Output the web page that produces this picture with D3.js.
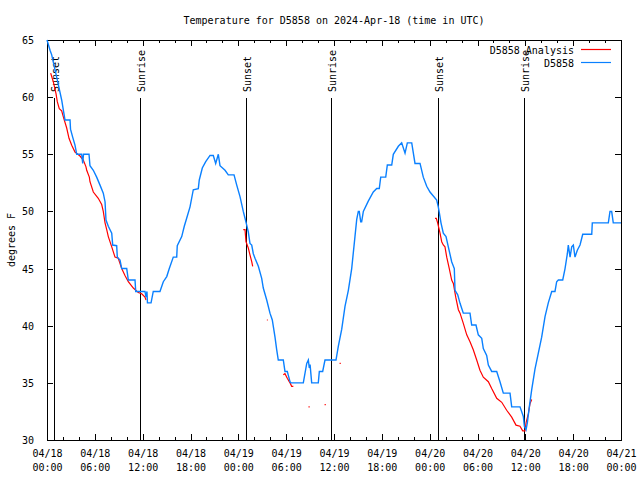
<!DOCTYPE html>
<html>
<head>
<meta charset="utf-8">
<script src="https://cdn.jsdelivr.net/npm/d3@7"></script>
<style>
  html, body { margin: 0; padding: 0; background: #fff; }
  svg { display: block; }
  text { font-family: "DejaVu Sans Mono", "Liberation Mono", monospace; font-size: 10px; fill: #000; }
</style>
</head>
<body>
<svg id="chart" width="640" height="480"></svg>
<script>
// ---------------- DATA ----------------
const titleText = "Temperature for D5858 on 2024-Apr-18 (time in UTC)";
const yLabelText = "degrees F";

// x tick labels (hours since 2024-04-18 00:00 UTC)
const xTickHours = [0, 6, 12, 18, 24, 30, 36, 42, 48, 54, 60, 66, 72];
const xTickDates = ["04/18", "04/18", "04/18", "04/18", "04/19", "04/19", "04/19", "04/19", "04/20", "04/20", "04/20", "04/20", "04/21"];
const xTickTimes = ["00:00", "06:00", "12:00", "18:00", "00:00", "06:00", "12:00", "18:00", "00:00", "06:00", "12:00", "18:00", "00:00"];
const yTicks = [30, 35, 40, 45, 50, 55, 60, 65];

// sunrise / sunset events
const eventHours = [0.92, 11.70, 25.00, 35.66, 49.08, 59.79];
const eventLabels = ["Sunset", "Sunrise", "Sunset", "Sunrise", "Sunset", "Sunrise"];

// D5858 observations
const obsHours = [0.00, 0.38, 0.59, 1.00, 1.42, 1.84, 2.04, 2.26, 2.89, 2.95, 3.22, 3.51, 3.73, 4.35, 4.48, 4.58, 5.27, 5.39, 5.81, 6.23,
  6.65, 7.06, 7.28, 7.40, 7.69, 8.12, 8.24, 8.74, 8.82, 9.16, 9.37, 10.00, 10.20, 11.04, 11.13, 12.29, 12.42, 12.54, 12.60, 13.05,
  13.33, 14.17, 14.59, 15.02, 15.34, 15.84, 16.27, 16.34, 16.90, 17.22, 17.52, 17.94, 18.35, 18.98, 19.10, 19.48, 19.91, 20.45, 20.86, 21.16,
  21.49, 21.70, 22.33, 22.74, 23.46, 23.80, 24.21, 24.62, 24.84, 25.05, 25.25, 25.46, 25.68, 25.88, 26.09, 26.51, 26.93, 27.13, 27.56, 27.97,
  28.26, 28.60, 28.81, 29.01, 29.64, 29.85, 30.14, 30.48, 30.60, 32.15, 32.58, 32.78, 32.90, 33.00, 33.20, 34.03, 34.16, 34.58, 34.87, 36.25,
  36.54, 36.97, 37.38, 37.80, 38.22, 38.63, 38.85, 39.05, 39.17, 39.35, 39.47, 39.68, 40.30, 40.93, 41.36, 41.68, 41.86, 42.49, 42.69, 43.24,
  43.44, 44.07, 44.49, 44.91, 45.20, 45.75, 46.16, 46.79, 47.20, 47.63, 48.04, 48.88, 49.08, 49.21, 49.42, 49.71, 50.05, 50.34, 50.76, 51.09,
  51.18, 51.52, 51.81, 52.22, 53.06, 53.27, 53.81, 54.10, 54.53, 54.73, 55.15, 55.36, 55.78, 56.41, 56.82, 57.24, 58.08, 58.29, 59.33, 59.75,
  59.88, 60.09, 60.25, 60.50, 60.80, 61.21, 61.63, 62.05, 62.47, 62.88, 63.31, 63.72, 63.93, 64.14, 64.69, 64.98, 65.27, 65.39, 65.61, 65.82,
  66.02, 66.23, 66.52, 66.86, 67.20, 68.33, 68.40, 70.41, 70.62, 70.83, 71.03, 72.00];
const obsTemps = [65.0, 64.1, 63.7, 62.4, 61.1, 59.75, 58.9, 58.0, 58.0, 57.2, 56.5, 55.8, 55.0, 55.0, 54.2, 55.0, 55.0, 54.0, 53.6, 53.0,
  52.3, 51.6, 50.85, 49.25, 48.7, 48.1, 47.06, 47.0, 46.0, 45.75, 45.0, 45.0, 44.0, 44.0, 43.0, 43.0, 42.5, 43.0, 42.0, 42.0,
  43.0, 43.0, 43.85, 44.3, 45.0, 46.0, 46.0, 47.0, 47.8, 48.7, 49.4, 50.4, 51.9, 52.0, 52.75, 53.8, 54.35, 54.9, 54.9, 54.2,
  55.0, 54.0, 53.6, 53.2, 53.2, 52.3, 51.3, 50.0, 49.4, 48.8, 48.2, 47.2, 47.06, 46.3, 45.9, 45.2, 44.15, 43.3, 42.25, 41.1,
  40.5, 39.0, 37.9, 37.0, 37.0, 36.0, 36.0, 35.1, 35.0, 35.0, 36.7, 37.0, 36.3, 36.6, 35.0, 35.0, 36.0, 36.0, 37.0, 37.0,
  38.2, 39.7, 41.7, 43.1, 45.0, 47.8, 49.3, 50.0, 50.0, 49.1, 49.1, 50.0, 50.9, 51.7, 52.0, 52.0, 53.0, 53.0, 54.06, 54.06,
  55.0, 55.7, 56.0, 55.1, 56.0, 56.0, 54.2, 54.2, 53.0, 52.2, 51.7, 51.0, 50.4, 49.9, 49.0, 48.1, 47.8, 46.9, 45.6, 45.0,
  43.1, 42.7, 41.96, 41.1, 41.1, 40.06, 40.06, 39.2, 38.9, 38.0, 37.4, 36.56, 36.0, 36.0, 35.1, 34.1, 34.1, 32.9, 32.9, 32.06,
  31.2, 30.9, 31.5, 32.9, 34.4, 36.2, 37.6, 39.0, 40.8, 42.0, 43.0, 43.0, 43.85, 44.0, 44.0, 45.0, 46.3, 47.06, 46.0, 46.9,
  47.06, 46.0, 46.6, 47.06, 48.0, 48.0, 49.0, 49.0, 50.0, 50.0, 49.0, 49.0];

// D5858 Analysis (several separate segments)
const anaSeg1Hours = [0.46, 0.79, 1.13, 1.29, 1.54, 1.84, 2.04, 2.47, 2.76, 3.10, 3.51, 4.14, 4.55, 4.89, 4.98, 5.31, 5.39, 5.81, 6.43, 6.86,
  7.06, 7.28, 7.49, 7.69, 8.12, 8.53, 8.94, 9.37, 9.78, 10.20, 10.83, 11.45, 11.88, 12.29, 12.42];
const anaSeg1Temps = [62.1, 61.35, 60.3, 59.6, 59.0, 58.8, 58.3, 57.3, 56.4, 55.8, 55.2, 54.85, 54.5, 53.9, 53.6, 53.0, 52.6, 51.7, 51.15, 50.6,
  50.0, 49.0, 48.4, 47.8, 46.9, 46.0, 45.9, 45.0, 44.4, 43.85, 43.3, 42.9, 42.8, 42.5, 42.25];
const anaSeg2Hours = [24.62, 24.84, 24.96, 25.25, 25.46, 25.68, 25.80];
const anaSeg2Temps = [48.4, 48.4, 47.35, 46.8, 46.2, 45.6, 45.2];
const anaSeg3Hours = [27.58, 27.70];
const anaSeg3Temps = [40.5, 40.5];
const anaSeg4Hours = [29.64, 29.85, 30.14, 30.48, 30.69, 30.90];
const anaSeg4Temps = [35.7, 35.8, 35.4, 35.0, 34.7, 34.7];
const anaSeg5Hours = [32.80, 32.95];
const anaSeg5Temps = [32.9, 32.9];
const anaSeg6Hours = [34.82, 34.97];
const anaSeg6Temps = [33.1, 33.1];
const anaSeg7Hours = [36.70, 36.85];
const anaSeg7Temps = [36.7, 36.7];
const anaSeg8Hours = [48.67, 48.83, 49.00, 49.30, 49.51, 49.71, 49.92, 50.14, 50.46, 50.76, 50.97, 51.27, 51.60, 51.81, 52.22, 52.65, 53.06, 53.47, 53.90, 54.31,
  54.73, 55.36, 55.78, 56.41, 57.04, 57.66, 58.29, 58.83, 59.33, 59.67, 59.96, 60.09, 60.38, 60.59, 60.80];
const anaSeg8Temps = [49.4, 49.4, 49.0, 48.1, 47.35, 47.06, 46.9, 46.0, 45.0, 44.0, 43.7, 42.5, 41.4, 41.1, 40.2, 39.2, 38.6, 37.9, 37.0, 36.1,
  35.5, 35.1, 34.5, 33.65, 33.3, 32.6, 32.0, 31.3, 31.2, 30.8, 30.8, 31.5, 32.3, 33.2, 33.55];

const seriesNames = ["D5858 Analysis", "D5858"];
const seriesColors = ["#ff0000", "#0a80ff"];

// ---------------- CHART ----------------
const svg = d3.select("#chart");
const L = 47, R = 621, T = 40, B = 440;

const x = d3.scaleLinear().domain([0, 72]).range([L, R]);
const y = d3.scaleLinear().domain([30, 65]).range([B, T]);

const zip = (hs, ts) => hs.map((h, i) => [h, ts[i]]);
const line = d3.line().x(d => x(d[0])).y(d => y(d[1]));

// title
svg.append("text")
  .attr("x", (L + R) / 2).attr("y", 20)
  .attr("text-anchor", "middle").attr("dominant-baseline", "central")
  .text(titleText);

// y label
svg.append("text")
  .attr("transform", `translate(11,${(T + B) / 2}) rotate(-90)`)
  .attr("text-anchor", "middle").attr("dominant-baseline", "central")
  .text(yLabelText);

// axes: bottom
const xAxisB = d3.axisBottom(x).tickValues(xTickHours).tickSizeInner(-6).tickSizeOuter(0).tickPadding(8)
  .tickFormat((d, i) => i);
const gxb = svg.append("g").attr("transform", `translate(0,${B})`).call(xAxisB);
gxb.select(".domain").remove();
gxb.selectAll(".tick line").attr("stroke", "#000").attr("shape-rendering", "crispEdges");
gxb.selectAll(".tick text").each(function(d, i) {
  const t = d3.select(this);
  t.text(null).attr("fill", "#000").attr("font-family", null).attr("font-size", null).attr("dy", null).attr("y", 0);
  t.append("tspan").attr("x", 0).attr("y", 13).attr("dominant-baseline", "central").text(xTickDates[i]);
  t.append("tspan").attr("x", 0).attr("y", 27).attr("dominant-baseline", "central").text(xTickTimes[i]);
});
// minor ticks bottom & top
const minorHours = d3.range(0, 73, 2).filter(h => h % 6 !== 0);
svg.append("g").selectAll("line").data(minorHours).join("line")
  .attr("x1", d => Math.round(x(d)) + 0.5).attr("x2", d => Math.round(x(d)) + 0.5)
  .attr("y1", B).attr("y2", B - 3).attr("stroke", "#000");
svg.append("g").selectAll("line").data(minorHours).join("line")
  .attr("x1", d => Math.round(x(d)) + 0.5).attr("x2", d => Math.round(x(d)) + 0.5)
  .attr("y1", T).attr("y2", T + 3).attr("stroke", "#000");

// top mirror ticks
const gxt = svg.append("g").attr("transform", `translate(0,${T})`)
  .call(d3.axisTop(x).tickValues(xTickHours).tickSizeInner(-6).tickSizeOuter(0).tickFormat(""));
gxt.select(".domain").remove();
gxt.selectAll(".tick line").attr("stroke", "#000").attr("shape-rendering", "crispEdges");

// left axis
const gyl = svg.append("g").attr("transform", `translate(${L},0)`)
  .call(d3.axisLeft(y).tickValues(yTicks).tickSizeInner(-6).tickSizeOuter(0).tickPadding(13).tickFormat(d3.format("d")));
gyl.select(".domain").remove();
gyl.selectAll(".tick line").attr("stroke", "#000").attr("shape-rendering", "crispEdges");
gyl.selectAll(".tick text").attr("fill", "#000").attr("font-family", null).attr("font-size", null).attr("dy", null)
  .attr("dominant-baseline", "central");

// right mirror ticks
const gyr = svg.append("g").attr("transform", `translate(${R},0)`)
  .call(d3.axisRight(y).tickValues(yTicks).tickSizeInner(-6).tickSizeOuter(0).tickFormat(""));
gyr.select(".domain").remove();
gyr.selectAll(".tick line").attr("stroke", "#000").attr("shape-rendering", "crispEdges");

// border
svg.append("rect").attr("x", L + 0.5).attr("y", T + 0.5).attr("width", R - L).attr("height", B - T)
  .attr("fill", "none").attr("stroke", "#000").attr("shape-rendering", "crispEdges");

// event lines + labels
const ev = svg.append("g");
eventHours.forEach((h, i) => {
  const xp = Math.round(x(h)) + 0.5;
  ev.append("line").attr("x1", xp).attr("x2", xp).attr("y1", 98).attr("y2", B)
    .attr("stroke", "#000").attr("stroke-width", 1).attr("shape-rendering", "crispEdges");
  ev.append("text")
    .attr("transform", `translate(${xp + 1},92) rotate(-90)`)
    .attr("text-anchor", "start").attr("dominant-baseline", "central")
    .text(eventLabels[i]);
});

// analysis segments (red)
const anaSegs = [
  zip(anaSeg1Hours, anaSeg1Temps), zip(anaSeg2Hours, anaSeg2Temps), zip(anaSeg3Hours, anaSeg3Temps),
  zip(anaSeg4Hours, anaSeg4Temps), zip(anaSeg5Hours, anaSeg5Temps), zip(anaSeg6Hours, anaSeg6Temps),
  zip(anaSeg7Hours, anaSeg7Temps), zip(anaSeg8Hours, anaSeg8Temps)
];
svg.append("g").selectAll("path").data(anaSegs).join("path")
  .attr("d", line).attr("fill", "none").attr("stroke", seriesColors[0]).attr("stroke-width", 1.2);

// observations (blue)
svg.append("path").datum(zip(obsHours, obsTemps))
  .attr("d", line).attr("fill", "none").attr("stroke", seriesColors[1]).attr("stroke-width", 1.4);

// legend
const leg = svg.append("g");
seriesNames.forEach((name, i) => {
  const yy = 50 + i * 13;
  leg.append("text").attr("x", 574).attr("y", yy).attr("text-anchor", "end")
    .attr("dominant-baseline", "central").text(name);
  leg.append("line").attr("x1", 581).attr("x2", 611).attr("y1", yy - 0.5).attr("y2", yy - 0.5)
    .attr("stroke", seriesColors[i]).attr("stroke-width", 1.2);
});
</script>
</body>
</html>
